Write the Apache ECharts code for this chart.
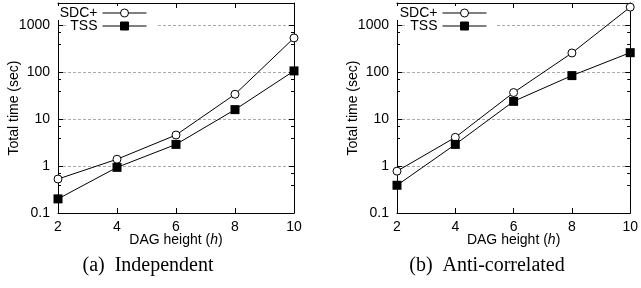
<!DOCTYPE html>
<html>
<head>
<meta charset="utf-8">
<script src="https://cdn.jsdelivr.net/npm/echarts@6/dist/echarts.min.js"></script>
<style>
html,body{margin:0;padding:0;background:#fff;}
#main{width:641px;height:288px;}
</style>
</head>
<body>
<div id="main"></div>
<script>
// data
var heights = [2, 4, 6, 8, 10];
var indepSDC = [0.53, 1.4, 4.6, 34, 540];
var indepTSS = [0.2, 0.94, 2.9, 16, 107];
var antiSDC = [0.78, 4.1, 37, 258, 2450];
var antiTSS = [0.39, 2.9, 24, 85, 262];
var seriesNames = ['SDC+', 'TSS'];
var captions = ['(a)  Independent', '(b)  Anti-correlated'];

var FONT = 'Liberation Sans';
var FS = 14;

function pairs(ys){
    return heights.map(function(h, i){ return [h, ys[i]]; });
}

var grids = [
    {left: 58, right: 347, top: 3, bottom: 75},
    {left: 397, right: 8, top: 3, bottom: 75}
];

function xAx(g, pos){
    var main = pos === 'bottom';
    return {
        type: 'value', gridIndex: g, position: pos, min: 2, max: 10, interval: 2,
        axisLine: {show: true, lineStyle: {color: '#000', width: 1}},
        axisTick: {show: true, inside: true, length: 5, lineStyle: {color: '#000'}},
        axisLabel: {show: main, color: '#000', fontSize: FS, fontFamily: FONT, margin: 7},
        splitLine: {show: false},
        name: main ? 'DAG height ({i|h})' : '',
        nameLocation: 'middle', nameGap: 20, nameMoveOverlap: false,
        nameTextStyle: {color: '#000', fontSize: FS, fontFamily: FONT,
            rich: {i: {fontStyle: 'italic', fontSize: FS, fontFamily: FONT, color: '#000'}}}
    };
}

function yAx(g, pos){
    var main = pos === 'left';
    return {
        type: 'log', logBase: 10, gridIndex: g, position: pos, min: 0.1, max: 3000,
        axisLine: {show: true, lineStyle: {color: '#000', width: 1}},
        axisTick: {show: true, inside: true, length: 5, lineStyle: {color: '#000'}},
        minorTick: {show: true, splitNumber: 3, length: 3, lineStyle: {color: '#000'}},
        axisLabel: {show: main, color: '#000', fontSize: FS, fontFamily: FONT, margin: 8,
            showMaxLabel: false,
            formatter: function(v){ return String(+(+v).toPrecision(6)); }},
        splitLine: {show: main, lineStyle: {color: '#aaa', type: [3, 2], width: 1}},
        name: main ? 'Total time (sec)' : '',
        nameLocation: 'middle', nameGap: 37, nameMoveOverlap: false,
        nameTextStyle: {color: '#000', fontSize: FS, fontFamily: FONT}
    };
}

function mkSeries(name, data, g){
    var sdc = name === 'SDC+';
    return {
        name: name, type: 'line', xAxisIndex: g * 2, yAxisIndex: g * 2,
        data: pairs(data),
        symbol: sdc ? 'circle' : 'rect',
        symbolSize: sdc ? 8 : 9,
        lineStyle: {color: '#000', width: 1},
        itemStyle: sdc ? {color: '#fff', borderColor: '#000', borderWidth: 1}
                       : {color: '#000', borderColor: '#000', borderWidth: 0},
        animation: false
    };
}

// one legend per entry so the samples line up like gnuplot's key
function mkLegend(name, iconRight, top){
    return {
        right: 641 - iconRight - 9, top: top, orient: 'horizontal', align: 'right',
        padding: [0, 9, 0, 3], itemGap: 0, itemWidth: 44, itemHeight: 10,
        backgroundColor: '#fff',
        data: [name],
        lineStyle: {width: 1, color: '#000'},
        itemStyle: {borderWidth: 1},
        textStyle: {color: '#000', fontSize: FS, fontFamily: FONT},
        selectedMode: false
    };
}

var chart = echarts.init(document.getElementById('main'), null, {renderer: 'canvas'});
var option = {
    animation: false,
    backgroundColor: '#fff',
    grid: grids,
    xAxis: [xAx(0, 'bottom'), xAx(0, 'top'), xAx(1, 'bottom'), xAx(1, 'top')],
    yAxis: [yAx(0, 'left'), yAx(0, 'right'), yAx(1, 'left'), yAx(1, 'right')],
    legend: [
        mkLegend(seriesNames[0], 147, 6), mkLegend(seriesNames[1], 147, 19),
        mkLegend(seriesNames[0], 487, 6), mkLegend(seriesNames[1], 487, 19)
    ],
    title: [
        {text: captions[0], left: 148, top: 256, textAlign: 'center', padding: 0,
            textStyle: {fontFamily: 'Liberation Serif', fontSize: 20, fontWeight: 'normal', color: '#000'}},
        {text: captions[1], left: 487, top: 256, textAlign: 'center', padding: 0,
            textStyle: {fontFamily: 'Liberation Serif', fontSize: 20, fontWeight: 'normal', color: '#000'}}
    ],
    series: [
        mkSeries(seriesNames[0], indepSDC, 0),
        mkSeries(seriesNames[1], indepTSS, 0),
        mkSeries(seriesNames[0], antiSDC, 1),
        mkSeries(seriesNames[1], antiTSS, 1)
    ]
};
chart.setOption(option);
</script>
</body>
</html>
